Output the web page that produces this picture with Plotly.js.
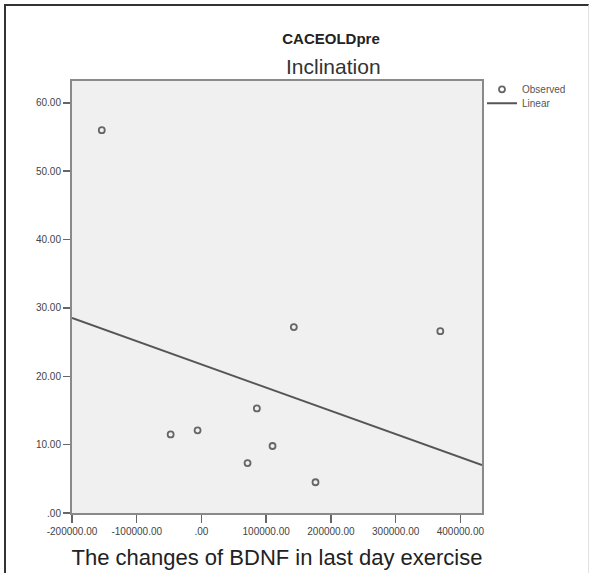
<!DOCTYPE html>
<html>
<head>
<meta charset="utf-8">
<script src="https://cdn.plot.ly/plotly-3.0.1.min.js"></script>
<style>
  html, body { margin: 0; padding: 0; background: #fff; }
  #wrap { position: relative; width: 591px; height: 573px; overflow: hidden; }
  #chart { width: 591px; height: 573px; }
  #frame { position: absolute; left: 4px; top: 4px; width: 582px; height: 580px;
           border-top: 2px solid #333; border-left: 2px solid #333; border-right: 1px solid #e2e2e2;
           pointer-events: none; }
</style>
</head>
<body>
<div id="wrap">
  <div id="chart"></div>
  <div id="frame"></div>
</div>
<script>
// ---- data ----
const obsX = [-154000, -47600, -6000, 71200, 85600, 109800, 142700, 176200, 369000];
const obsY = [56.0, 11.5, 12.1, 7.3, 15.3, 9.8, 27.2, 4.5, 26.6];

const xRange = [-200000, 433400];
const yRange = [0, 63.2];

const xTickVals = [-200000, -100000, 0, 100000, 200000, 300000, 400000];
const xTickLabels = ["-200000.00", "-100000.00", ".00", "100000.00", "200000.00", "300000.00", "400000.00"];
const yTickVals = [0, 10, 20, 30, 40, 50, 60];
const yTickLabels = [".00", "10.00", "20.00", "30.00", "40.00", "50.00", "60.00"];

const chartTitle = "CACEOLDpre";
const chartSubtitle = "Inclination";
const xTitle = "The changes of BDNF in last day exercise";
const legendNames = ["Observed", "Linear"];

// ---- linear least-squares fit of the observed points ----
const n = obsX.length;
const mx = obsX.reduce((a, b) => a + b, 0) / n;
const my = obsY.reduce((a, b) => a + b, 0) / n;
let sxy = 0, sxx = 0;
for (let i = 0; i < n; i++) { sxy += (obsX[i] - mx) * (obsY[i] - my); sxx += (obsX[i] - mx) ** 2; }
const slope = sxy / sxx;
const intercept = my - slope * mx;
const fitX = xRange.slice();
const fitY = fitX.map(x => intercept + slope * x);

const FONT = '"Liberation Sans", Arial, sans-serif';

const traces = [
  {
    x: obsX, y: obsY, type: 'scatter', mode: 'markers', name: legendNames[0], legend: 'legend',
    marker: { symbol: 'circle-open', size: 6, color: '#666', line: { color: '#666', width: 1.8 } },
    hoverinfo: 'x+y'
  },
  {
    x: fitX, y: fitY, type: 'scatter', mode: 'lines', name: legendNames[1], legend: 'legend2',
    line: { color: '#555', width: 2 }, hoverinfo: 'skip'
  }
];

const axisCommon = {
  showgrid: false, zeroline: false, showline: true, mirror: true,
  linecolor: '#8a8a8a', linewidth: 2,
  ticks: 'outside', ticklen: 7, tickwidth: 1.5, tickcolor: '#666',
  tickfont: { family: FONT, size: 10, color: '#444' }
};

const py = p => (513 - p) / 432.3;   // pixel row -> paper y
const legendCommon = {
  xanchor: 'left', yanchor: 'middle', x: (482 - 72) / 410,
  font: { family: FONT, size: 10, color: '#555' },
  bgcolor: 'rgba(0,0,0,0)', borderwidth: 0, tracegroupgap: 0, itemwidth: 30
};

const layout = {
  width: 591, height: 573,
  paper_bgcolor: '#ffffff', plot_bgcolor: '#f0f0f0',
  margin: { l: 72, r: 109, t: 81, b: 60 },
  font: { family: FONT, color: '#222' },
  title: {
    text: '<b>' + chartTitle + '</b>',
    font: { family: FONT, size: 15, color: '#222' },
    x: 331 / 591, xanchor: 'center', xref: 'container',
    y: 1 - 38.5 / 573, yanchor: 'middle', yref: 'container'
  },
  annotations: [{
    text: chartSubtitle, xref: 'paper', yref: 'paper',
    x: (333 - 72) / 410, y: py(66), xanchor: 'center', yanchor: 'middle',
    showarrow: false, font: { family: FONT, size: 21, color: '#333' }
  }],
  xaxis: Object.assign({}, axisCommon, {
    range: xRange, tickvals: xTickVals, ticktext: xTickLabels, ticklen: 8,
    title: { text: xTitle, font: { family: FONT, size: 22, color: '#222' }, standoff: 14 }
  }),
  yaxis: Object.assign({}, axisCommon, {
    range: yRange, tickvals: yTickVals, ticktext: yTickLabels
  }),
  showlegend: true,
  legend: Object.assign({}, legendCommon, { y: py(89) }),
  legend2: Object.assign({}, legendCommon, { y: py(103) })
};

Plotly.newPlot('chart', traces, layout, { staticPlot: true, displayModeBar: false });
</script>
</body>
</html>
